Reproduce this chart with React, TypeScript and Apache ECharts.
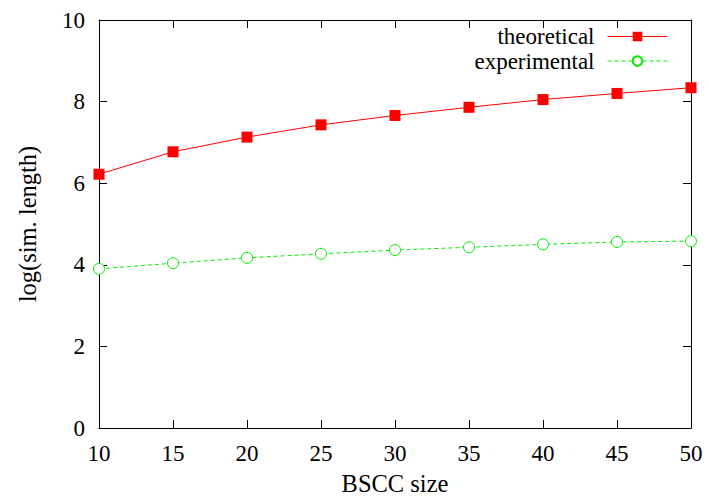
import React, { useEffect, useRef } from "react";
import * as echarts from "echarts";

const bsccSizes = [10, 15, 20, 25, 30, 35, 40, 45, 50];
const theoretical = [6.22, 6.77, 7.13, 7.43, 7.66, 7.86, 8.05, 8.2, 8.34];
const experimental = [3.9, 4.04, 4.17, 4.27, 4.36, 4.43, 4.5, 4.56, 4.58];
const seriesNames = ["theoretical", "experimental"];

const FONT = "Liberation Serif";
const FS = 23;
const FS_NAME = 24.5;
const FS_LEGEND = 23;

export default function App() {
  const ref = useRef<HTMLDivElement>(null);
  useEffect(() => {
    if (!ref.current) return;
    const chart = echarts.init(ref.current, null, { renderer: "svg" });
    const tickStyle = { show: true, inside: true, length: 8, lineStyle: { color: "#000", width: 1 } };
    const legendBase = {
      orient: "vertical",
      right: 41,
      align: "right",
      itemWidth: 60,
      itemHeight: 12,
      padding: 0,
      lineStyle: { width: 1 },
      textStyle: { fontFamily: FONT, fontSize: FS_LEGEND, color: "#000", lineHeight: 22, padding: [0, 8, 0, 0] },
    };
    chart.setOption({
      animation: false,
      backgroundColor: "#fff",
      textStyle: { fontFamily: FONT },
      grid: { left: 99, right: 18, top: 20, bottom: 71, containLabel: false },
      legend: [
        { ...legendBase, top: 25, data: [seriesNames[0]] },
        { ...legendBase, top: 49.5, data: [seriesNames[1]] },
      ],
      xAxis: [
        {
          type: "value",
          min: 10,
          max: 50,
          interval: 5,
          name: "BSCC size",
          nameLocation: "middle",
          nameGap: 43,
          nameTextStyle: { fontFamily: FONT, fontSize: FS_NAME, color: "#000" },
          axisLine: { show: true, onZero: false, lineStyle: { color: "#000", width: 1 } },
          axisTick: tickStyle,
          axisLabel: { fontFamily: FONT, fontSize: FS, color: "#000", margin: 14 },
          splitLine: { show: false },
        },
        {
          type: "value",
          position: "top",
          min: 10,
          max: 50,
          interval: 5,
          axisLine: { show: true, onZero: false, lineStyle: { color: "#000", width: 1 } },
          axisTick: tickStyle,
          axisLabel: { show: false },
          splitLine: { show: false },
        },
      ],
      yAxis: [
        {
          type: "value",
          min: 0,
          max: 10,
          interval: 2,
          name: "log(sim. length)",
          nameLocation: "middle",
          nameGap: 59,
          nameRotate: 90,
          nameTextStyle: { fontFamily: FONT, fontSize: FS_NAME, color: "#000" },
          axisLine: { show: true, onZero: false, lineStyle: { color: "#000", width: 1 } },
          axisTick: tickStyle,
          axisLabel: { fontFamily: FONT, fontSize: FS, color: "#000", margin: 14 },
          splitLine: { show: false },
        },
        {
          type: "value",
          position: "right",
          min: 0,
          max: 10,
          interval: 2,
          axisLine: { show: true, onZero: false, lineStyle: { color: "#000", width: 1 } },
          axisTick: tickStyle,
          axisLabel: { show: false },
          splitLine: { show: false },
        },
      ],
      series: [
        {
          name: seriesNames[0],
          type: "line",
          data: bsccSizes.map((x, i) => [x, theoretical[i]]),
          symbol: "rect",
          symbolSize: 11,
          itemStyle: { color: "#ff0000" },
          lineStyle: { color: "#ff0000", width: 1 },
          z: 3,
        },
        {
          name: seriesNames[1],
          type: "line",
          data: bsccSizes.map((x, i) => [x, experimental[i]]),
          symbol: "circle",
          symbolSize: 11,
          itemStyle: { color: "#fff", borderColor: "#00ee00", borderWidth: 1 },
          lineStyle: { color: "#00ee00", width: 1, type: [4, 3] },
          z: 2,
        },
      ],
    });
    return () => chart.dispose();
  }, []);
  return <div ref={ref} style={{ width: 709, height: 501, position: "absolute", left: 0, top: 0 }} />;
}
